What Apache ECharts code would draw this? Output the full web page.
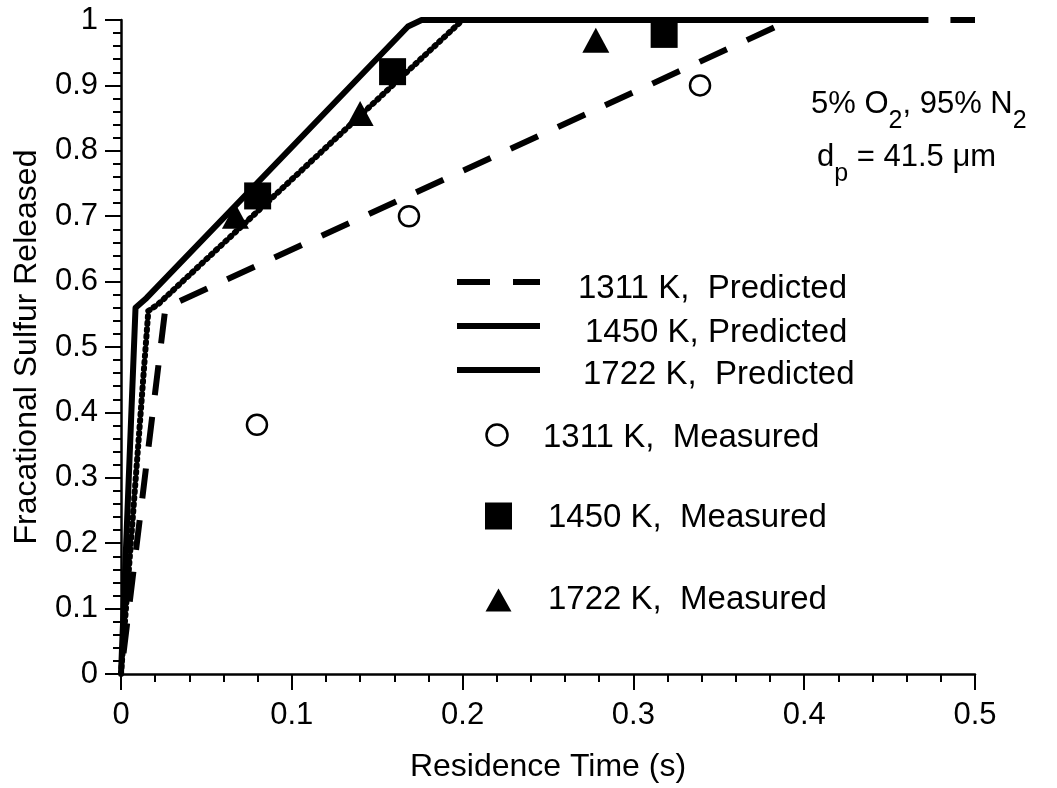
<!DOCTYPE html>
<html><head><meta charset="utf-8">
<script src="https://cdn.jsdelivr.net/npm/echarts@6/dist/echarts.min.js"></script>
<style>html,body{margin:0;padding:0;background:#fff}#c{width:1057px;height:788px}</style>
</head><body><div id="c"></div>
<script>
// ---- data ----
const xTickValues = [0, 0.1, 0.2, 0.3, 0.4, 0.5];
const yTickValues = [0, 0.1, 0.2, 0.3, 0.4, 0.5, 0.6, 0.7, 0.8, 0.9, 1];
const pred1311 = [[0, 0], [0.026, 0.56], [0.392, 1.0], [0.5, 1.0]];
const pred1450 = [[0, 0], [0.016, 0.555], [0.022, 0.566], [0.2, 1.0], [0.47, 1.0]];
const pred1722 = [[0, 0], [0.0085, 0.56], [0.015, 0.575], [0.168, 0.99], [0.176, 1.0], [0.47, 1.0]];
const meas1311 = [[0.0796, 0.381], [0.1686, 0.70], [0.339, 0.90]];
const meas1450 = [[0.08, 0.731], [0.159, 0.921], [0.318, 0.978]];
const meas1722 = [[0.067, 0.70], [0.14, 0.857], [0.278, 0.969]];
const legendLabels = ['1311 K,  Predicted', '1450 K, Predicted', '1722 K,  Predicted',
                      '1311 K,  Measured', '1450 K,  Measured', '1722 K,  Measured'];

const FONT = '"Liberation Sans", Arial, sans-serif';
const cvs = document.createElement('canvas');
const ctx = cvs.getContext('2d');
function tw(t, size) { ctx.font = size + 'px ' + FONT; return ctx.measureText(t).width; }

function textEl(x, y, t, size) {
  return { type: 'text', x: x, y: y, z: 100,
    style: { text: t, font: size + 'px ' + FONT, fill: '#000', align: 'left', verticalAlign: 'middle',
             textAlign: 'left', textVerticalAlign: 'middle' } };
}
function richLine(x, yMid, parts) {
  const out = []; let cx = x;
  parts.forEach(p => {
    const sz = p.sub ? 25 : 31;
    out.push(textEl(cx, p.sub ? yMid + 17 : yMid, p.t, sz));
    cx += tw(p.t, sz);
  });
  return out;
}

const graphics = [];
// legend lines
graphics.push({ type: 'line', z: 100, shape: { x1: 457, y1: 282, x2: 490, y2: 282 }, style: { stroke: '#000', lineWidth: 6 } });
graphics.push({ type: 'line', z: 100, shape: { x1: 513, y1: 282, x2: 540, y2: 282 }, style: { stroke: '#000', lineWidth: 6 } });
graphics.push({ type: 'line', z: 100, shape: { x1: 457, y1: 326, x2: 540, y2: 326 }, style: { stroke: '#000', lineWidth: 6 } });
graphics.push({ type: 'line', z: 100, shape: { x1: 457, y1: 370, x2: 540, y2: 370 }, style: { stroke: '#000', lineWidth: 6 } });
graphics.push({ type: 'circle', z: 100, shape: { cx: 497, cy: 435, r: 10.5 }, style: { fill: '#fff', stroke: '#000', lineWidth: 2.5 } });
graphics.push({ type: 'rect', z: 100, shape: { x: 485, y: 502.5, width: 27, height: 27 }, style: { fill: '#000' } });
graphics.push({ type: 'polygon', z: 100, shape: { points: [[498.5, 588.5], [511.5, 611.5], [485.5, 611.5]] }, style: { fill: '#000' } });
graphics.push(textEl(578, 289, legendLabels[0], 33));
graphics.push(textEl(585, 333, legendLabels[1], 33));
graphics.push(textEl(583, 375, legendLabels[2], 33));
graphics.push(textEl(543, 438, legendLabels[3], 33));
graphics.push(textEl(548, 518, legendLabels[4], 33));
graphics.push(textEl(548, 600, legendLabels[5], 33));
// annotation
richLine(811, 104, [{ t: '5% O' }, { t: '2', sub: true }, { t: ', 95% N' }, { t: '2', sub: true }]).forEach(e => graphics.push(e));
richLine(817, 157, [{ t: 'd' }, { t: 'p', sub: true }, { t: ' = 41.5 \u03bcm' }]).forEach(e => graphics.push(e));

const chart = echarts.init(document.getElementById('c'), null, { renderer: 'canvas' });
const axisCommon = {
  type: 'value',
  axisLine: { show: true, onZero: false, lineStyle: { color: '#000', width: 2.5 } },
  axisTick: { show: true, inside: false, length: 16, lineStyle: { color: '#000', width: 2 } },
  minorTick: { show: true, splitNumber: 5, length: 8, lineStyle: { color: '#000', width: 2 } },
  splitLine: { show: false },
  minorSplitLine: { show: false },
  nameLocation: 'middle',
  nameTextStyle: { fontSize: 32, color: '#000', fontFamily: FONT }
};
chart.setOption({
  animation: false,
  backgroundColor: '#fff',
  grid: { left: 121, right: 82, top: 20, bottom: 110, containLabel: false },
  xAxis: Object.assign({}, axisCommon, {
    min: xTickValues[0], max: xTickValues[xTickValues.length - 1], interval: xTickValues[1] - xTickValues[0],
    name: 'Residence Time (s)', nameGap: 77,
    axisLabel: { fontSize: 31, color: '#000', margin: 26, fontFamily: FONT }
  }),
  yAxis: Object.assign({}, axisCommon, {
    min: yTickValues[0], max: yTickValues[yTickValues.length - 1], interval: yTickValues[1] - yTickValues[0],
    name: 'Fracational Sulfur Released', nameGap: 78,
    axisLabel: { fontSize: 31, color: '#000', margin: 23, fontFamily: FONT }
  }),
  series: [
    { type: 'line', name: legendLabels[0], data: pred1311, symbol: 'none', clip: false, z: 3,
      lineStyle: { color: '#000', width: 6, type: [30, 22], dashOffset: 31, cap: 'butt' } },
    { type: 'line', name: legendLabels[1], data: pred1450, symbol: 'none', clip: false, z: 3,
      lineStyle: { color: '#000', width: 6, type: [1.5, 5], cap: 'round', join: 'round' } },
    { type: 'line', name: legendLabels[2], data: pred1722, symbol: 'none', clip: false, z: 3,
      lineStyle: { color: '#000', width: 6, type: 'solid', join: 'round' } },
    { type: 'scatter', name: legendLabels[3], data: meas1311, symbol: 'circle', symbolSize: 20, z: 5,
      itemStyle: { color: '#fff', borderColor: '#000', borderWidth: 2.5, opacity: 1 } },
    { type: 'scatter', name: legendLabels[4], data: meas1450, symbol: 'rect', symbolSize: 27, z: 5,
      itemStyle: { color: '#000', opacity: 1 } },
    { type: 'scatter', name: legendLabels[5], data: meas1722, symbol: 'triangle', symbolSize: [27, 25], z: 5,
      itemStyle: { color: '#000', opacity: 1 } }
  ],
  graphic: graphics
});
</script></body></html>
